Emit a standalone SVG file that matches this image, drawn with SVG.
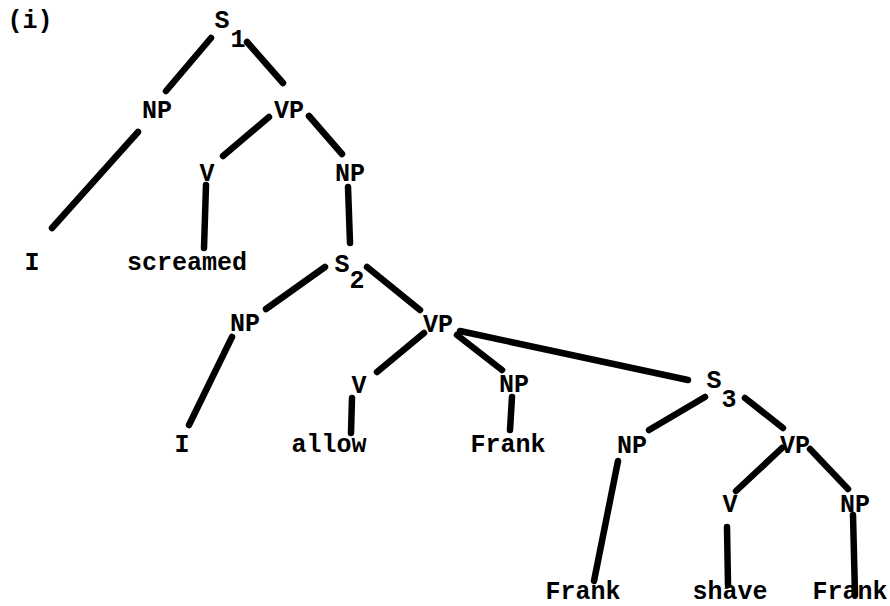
<svg xmlns="http://www.w3.org/2000/svg" width="890" height="606" viewBox="0 0 890 606">
<style>
text{font-family:"Liberation Mono","Courier New",monospace;font-size:25px;font-weight:bold;fill:#000;text-anchor:middle}
.e line{stroke:#000;stroke-width:6.5;stroke-linecap:round}
</style>
<rect width="890" height="606" fill="#fff"/>
<text x="30" y="28">(i)</text>
<g class="e" id="connectors">
<line x1="211" y1="38" x2="166" y2="91"/>
<line x1="247" y1="42" x2="283" y2="83"/>
<line x1="138" y1="132" x2="52" y2="228"/>
<line x1="269" y1="117" x2="223" y2="156"/>
<line x1="309" y1="116" x2="342" y2="154"/>
<line x1="206" y1="185" x2="204" y2="248"/>
<line x1="348" y1="187" x2="350" y2="243"/>
<line x1="325" y1="267" x2="266" y2="309"/>
<line x1="367" y1="267" x2="420" y2="310"/>
<line x1="232" y1="337" x2="189" y2="425"/>
<line x1="424" y1="333" x2="377" y2="372"/>
<line x1="352" y1="398" x2="351" y2="433"/>
<line x1="457" y1="335" x2="502" y2="370"/>
<line x1="460" y1="331" x2="688" y2="380"/>
<line x1="512" y1="397" x2="510" y2="430"/>
<line x1="705" y1="397" x2="649" y2="430"/>
<line x1="745" y1="398" x2="783" y2="428"/>
<line x1="618" y1="461" x2="594" y2="581"/>
<line x1="782" y1="448" x2="736" y2="491"/>
<line x1="810" y1="449" x2="848" y2="489"/>
<line x1="727" y1="527" x2="728" y2="585"/>
<line x1="853" y1="515" x2="855" y2="595"/>
</g>
<g id="S1"><text x="222" y="28">S</text><text x="238" y="47">1</text></g>
<g id="NP1"><text x="157" y="118">NP</text></g>
<g id="VP1"><text x="289" y="118">VP</text></g>
<g id="I1"><text x="32" y="270">I</text></g>
<g id="V1"><text x="207" y="181">V</text></g>
<g id="NP2"><text x="350" y="181">NP</text></g>
<g id="screamed"><text x="187" y="270">screamed</text></g>
<g id="S2"><text x="342" y="272">S</text><text x="357" y="288">2</text></g>
<g id="NP3"><text x="245" y="331">NP</text></g>
<g id="VP2"><text x="438" y="332">VP</text></g>
<g id="I2"><text x="182" y="452">I</text></g>
<g id="V2"><text x="359" y="393">V</text></g>
<g id="allow"><text x="329" y="452">allow</text></g>
<g id="NP4"><text x="514" y="392">NP</text></g>
<g id="Frank1"><text x="508" y="452">Frank</text></g>
<g id="S3"><text x="714" y="388">S</text><text x="729" y="407">3</text></g>
<g id="NP5"><text x="632" y="453">NP</text></g>
<g id="VP3"><text x="795" y="453">VP</text></g>
<g id="V3"><text x="730" y="512">V</text></g>
<g id="NP6"><text x="855" y="512">NP</text></g>
<g id="Frank2"><text x="583" y="599">Frank</text></g>
<g id="shave"><text x="730" y="599">shave</text></g>
<g id="Frank3"><text x="850" y="599">Frank</text></g>
</svg>
